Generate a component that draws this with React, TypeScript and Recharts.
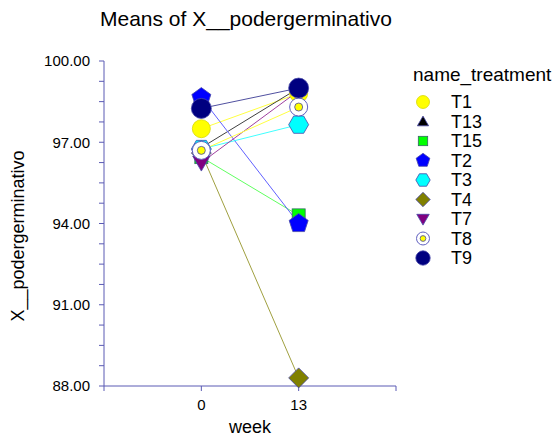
import React from 'react';
import { LineChart, Line, XAxis, YAxis, Legend } from 'recharts';

const treatments = ['T1', 'T13', 'T15', 'T2', 'T3', 'T4', 'T7', 'T8', 'T9'];
const weeks = [0, 13];
const week0 = [97.5, 96.8, 96.45, 98.65, 96.75, 96.6, 96.25, 96.7, 98.25];
const week13 = [98.8, 99.0, 94.3, 94.0, 97.65, 88.3, 98.9, 98.3, 99.0];
const yTicks = [88, 88.75, 89.5, 90.25, 91, 91.75, 92.5, 93.25, 94, 94.75, 95.5, 96.25, 97, 97.75, 98.5, 99.25, 100];
const yLabels = [88, 91, 94, 97, 100];
const xTicks = [-13, 0, 13, 26];
const xLabels = [0, 13];

const colors: Record<string, string> = {
  T1: '#ffff00',
  T13: '#000000',
  T15: '#00ff00',
  T2: '#0000ff',
  T3: '#00ffff',
  T4: '#808000',
  T7: '#800080',
  T8: '#ffff00',
  T9: '#000080',
};

const lineColors: Record<string, string> = {
  T1: '#ffff40',
  T13: '#404040',
  T15: '#60ff60',
  T2: '#6060ff',
  T3: '#40ffff',
  T4: '#a0a040',
  T7: '#a040a0',
  T8: '#ffff40',
  T9: '#5050a0',
};

const data = weeks.map((w, i) => {
  const row: any = { week: w };
  treatments.forEach((t, j) => {
    row[t] = i === 0 ? week0[j] : week13[j];
  });
  return row;
});

const AXIS = '#5a5ab4';
const EDGE = '#4848a8';
const FONT = '"Liberation Sans", Arial, sans-serif';

const poly = (cx: number, cy: number, r: number, n: number, rot: number) => {
  const pts = [];
  for (let k = 0; k < n; k++) {
    const a = rot + (k * 2 * Math.PI) / n;
    pts.push(`${cx + r * Math.cos(a)},${cy + r * Math.sin(a)}`);
  }
  return pts.join(' ');
};

const Marker = ({ name, cx, cy, s = 1 }: { name: string; cx: number; cy: number; s?: number }) => {
  const c = colors[name];
  switch (name) {
    case 'T1':
      return <circle cx={cx} cy={cy} r={9 * s} fill={c} stroke="#d8d800" strokeWidth={0.8} />;
    case 'T13':
      return <polygon points={poly(cx, cy + 1.5 * s, 9 * s, 3, -Math.PI / 2)} fill={c} stroke={EDGE} strokeWidth={0.8} />;
    case 'T15':
      return <rect x={cx - 6.5 * s} y={cy - 6.5 * s} width={13 * s} height={13 * s} fill={c} stroke="#336666" strokeWidth={0.8} />;
    case 'T2':
      return <polygon points={poly(cx, cy, 10 * s, 5, -Math.PI / 2)} fill={c} stroke={EDGE} strokeWidth={0.8} />;
    case 'T3':
      return <polygon points={poly(cx, cy, 10 * s, 6, 0)} fill={c} stroke={EDGE} strokeWidth={0.8} />;
    case 'T4':
      return <polygon points={poly(cx, cy, 10 * s, 4, 0)} fill={c} stroke={EDGE} strokeWidth={0.8} />;
    case 'T7':
      return <polygon points={poly(cx, cy - 1.5 * s, 10 * s, 3, Math.PI / 2)} fill={c} stroke={EDGE} strokeWidth={0.8} />;
    case 'T8':
      return (
        <g>
          <circle cx={cx} cy={cy} r={9 * s} fill="#ffffff" stroke="#6060c0" strokeWidth={1} />
          <circle cx={cx} cy={cy} r={4 * s} fill={c} stroke={EDGE} strokeWidth={0.8} />
        </g>
      );
    default:
      return <circle cx={cx} cy={cy} r={10 * s} fill={c} stroke={EDGE} strokeWidth={0.8} />;
  }
};

const LegendBox = () => (
  <div style={{ fontFamily: FONT, color: '#000' }}>
    <div style={{ fontSize: 19, lineHeight: '26px' }}>name_treatment</div>
    <svg width={150} height={180}>
      {treatments.map((t, i) => (
        <g key={t}>
          <Marker name={t} cx={10} cy={14 + i * 19.5} s={0.72} />
          <text x={38} y={14 + i * 19.5} dy="0.36em" fontSize={18} fill="#000">
            {t}
          </text>
        </g>
      ))}
    </svg>
  </div>
);

export default function App() {
  return (
    <div style={{ position: 'absolute', left: 0, top: 0, width: 557, height: 439, background: '#fff' }}>
      <div
        style={{
          position: 'absolute',
          left: 100,
          top: 7,
          fontFamily: FONT,
          fontSize: 21,
          color: '#000',
          whiteSpace: 'nowrap',
        }}
      >
        Means of X__podergerminativo
      </div>
      <LineChart width={557} height={439} data={data} margin={{ top: 61, right: 161, bottom: 0, left: 0 }}>
        <XAxis
          dataKey="week"
          type="number"
          domain={[-13, 26]}
          ticks={xTicks}
          tickFormatter={(v: number) => (xLabels.includes(v) ? String(v) : '')}
          stroke={AXIS}
          tickSize={5}
          tickMargin={8}
          tick={{ fill: '#000', fontSize: 15, fontFamily: FONT }}
          height={53}
          label={{ value: 'week', position: 'insideBottom', offset: 6, fill: '#000', fontSize: 18, fontFamily: FONT }}
        />
        <YAxis
          type="number"
          domain={[88, 100]}
          ticks={yTicks}
          interval={0}
          tickFormatter={(v: number) => (yLabels.includes(v) ? v.toFixed(2) : '')}
          stroke={AXIS}
          tickSize={5}
          tickMargin={9}
          tick={{ fill: '#000', fontSize: 15, fontFamily: FONT }}
          width={104}
          label={() => (
            <text
              x={24}
              y={236}
              transform="rotate(-90 24 236)"
              textAnchor="middle"
              fontSize={18}
              fontFamily={FONT}
              fill="#000"
            >
              X__podergerminativo
            </text>
          )}
        />
        <Legend
          layout="vertical"
          align="center"
          verticalAlign="middle"
          wrapperStyle={{ left: 413, top: 62, width: 150 }}
          content={() => <LegendBox />}
        />
        {treatments.map((t) => (
          <Line
            key={t}
            dataKey={t}
            type="linear"
            stroke={lineColors[t]}
            strokeWidth={1}
            isAnimationActive={false}
            activeDot={false}
            dot={(p: any) => <Marker key={`${t}-${p.index}`} name={t} cx={p.cx} cy={p.cy} />}
          />
        ))}
      </LineChart>
    </div>
  );
}
